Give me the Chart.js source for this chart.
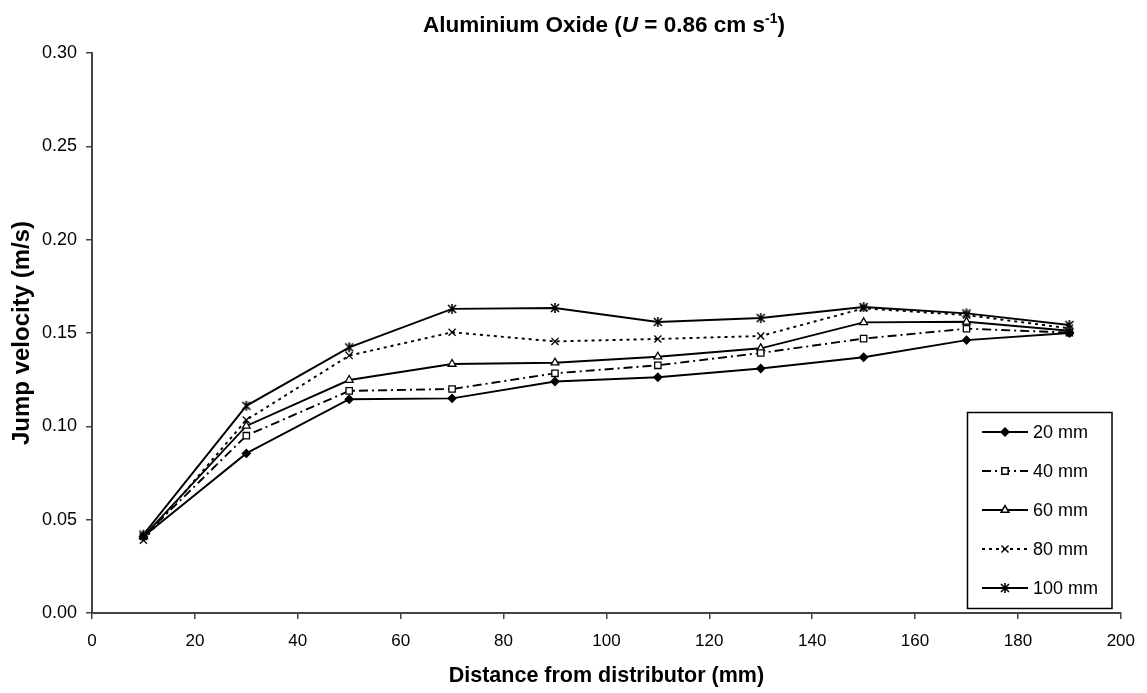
<!DOCTYPE html>
<html>
<head>
<meta charset="utf-8">
<script src="https://cdn.jsdelivr.net/npm/chart.js@4/dist/chart.umd.min.js"></script>
<style>
  body { margin: 0; background: #fff; }
  canvas { display: block; }
</style>
</head>
<body>
<canvas id="myLineChart" width="1147" height="693"></canvas>
<script>
/*  data
-------------------------------------------------------*/
var distances = [10, 30, 50, 70, 90, 110, 130, 150, 170, 190];
var seriesNames = ['20 mm', '40 mm', '60 mm', '80 mm', '100 mm'];
var v20  = [0.041, 0.0855, 0.1145, 0.115, 0.124, 0.1263, 0.131, 0.137, 0.1462, 0.150];
var v40  = [0.041, 0.095, 0.119, 0.120, 0.1284, 0.1327, 0.1393, 0.147, 0.1523, 0.1502];
var v60  = [0.041, 0.1002, 0.1248, 0.1334, 0.1341, 0.1373, 0.1418, 0.1557, 0.156, 0.1512];
var v80  = [0.039, 0.1034, 0.1379, 0.1504, 0.1455, 0.1468, 0.1484, 0.1632, 0.1596, 0.1525];
var v100 = [0.042, 0.111, 0.1423, 0.1629, 0.1634, 0.1559, 0.158, 0.1639, 0.1605, 0.1543];
var yTickLabels = ['0.00', '0.05', '0.10', '0.15', '0.20', '0.25', '0.30'];

function pts(values) {
  return distances.map(function (d, i) { return { x: d, y: values[i] }; });
}

// asterisk marker: an x with a vertical bar
var star = document.createElement('canvas');
star.width = 12; star.height = 12;
(function () {
  var c = star.getContext('2d');
  c.strokeStyle = '#000';
  c.lineWidth = 1.6;
  c.beginPath();
  c.moveTo(2, 2); c.lineTo(10, 10);
  c.moveTo(10, 2); c.lineTo(2, 10);
  c.moveTo(6, 1); c.lineTo(6, 11);
  c.stroke();
})();

var FONT = "'Liberation Sans', Arial, sans-serif";

/*  title with italic U and superscript
-------------------------------------------------------*/
var titlePlugin = {
  id: 'richTitle',
  afterDraw: function (chart) {
    var ctx = chart.ctx;
    var parts = [
      { t: 'Aluminium Oxide (', f: 'bold 22.5px ' + FONT, dy: 0 },
      { t: 'U', f: 'italic bold 22.5px ' + FONT, dy: 0 },
      { t: ' = 0.86 cm s', f: 'bold 22.5px ' + FONT, dy: 0 },
      { t: '-1', f: 'bold 14px ' + FONT, dy: -9 },
      { t: ')', f: 'bold 22.5px ' + FONT, dy: 0 }
    ];
    ctx.save();
    var total = 0;
    parts.forEach(function (p) { ctx.font = p.f; p.w = ctx.measureText(p.t).width; total += p.w; });
    var x = 604 - total / 2;
    ctx.fillStyle = '#000';
    ctx.textBaseline = 'alphabetic';
    ctx.textAlign = 'left';
    parts.forEach(function (p) { ctx.font = p.f; ctx.fillText(p.t, x, 32 + p.dy); x += p.w; });
    ctx.restore();
  }
};

/*  legend box inside the plot
-------------------------------------------------------*/
var legendPlugin = {
  id: 'boxLegend',
  afterDraw: function (chart) {
    var ctx = chart.ctx;
    ctx.save();
    ctx.strokeStyle = '#000';
    ctx.lineWidth = 1.5;
    ctx.strokeRect(967.5, 412.5, 144.5, 196);
    chart.data.datasets.forEach(function (ds, i) {
      var y = 432 + i * 39;
      ctx.save();
      ctx.strokeStyle = '#000';
      ctx.lineWidth = ds.borderWidth;
      ctx.setLineDash(ds.borderDash || []);
      ctx.beginPath();
      ctx.moveTo(982, y); ctx.lineTo(1028, y);
      ctx.stroke();
      ctx.restore();
      ctx.fillStyle = ds.pointBackgroundColor;
      ctx.strokeStyle = '#000';
      Chart.helpers.drawPoint(ctx, {
        pointStyle: ds.pointStyle, radius: ds.pointRadius, rotation: ds.pointRotation || 0,
        borderWidth: ds.pointBorderWidth
      }, 1005, y);
      ctx.fillStyle = '#000';
      ctx.font = '18px ' + FONT;
      ctx.textBaseline = 'middle';
      ctx.fillText(ds.label, 1033, y + 1);
    });
    ctx.restore();
  }
};

function series(label, values, dash, style, radius, fill, rot) {
  return {
    label: label,
    data: pts(values),
    borderColor: '#000',
    borderWidth: 1.9,
    borderDash: dash,
    pointStyle: style,
    pointRadius: radius,
    pointHoverRadius: radius,
    pointRotation: rot || 0,
    pointBackgroundColor: fill,
    pointBorderColor: '#000',
    pointBorderWidth: 1.3,
    lineTension: 0
  };
}

var ctx = document.getElementById('myLineChart');
var myLineChart = new Chart(ctx, {
  type: 'line',
  data: {
    datasets: [
      series(seriesNames[0], v20, [], 'rectRot', 4, '#000'),
      series(seriesNames[1], v40, [9, 4, 2, 4], 'rect', 4.5, '#fff'),
      series(seriesNames[2], v60, [], 'triangle', 4.5, '#fff'),
      series(seriesNames[3], v80, [3, 4], 'crossRot', 5, '#fff'),
      series(seriesNames[4], v100, [], star, 6, '#000')
    ]
  },
  options: {
    responsive: false,
    animation: false,
    layout: { padding: { top: 53, right: 26, left: 0, bottom: 0 } },
    plugins: {
      legend: { display: false },
      title: { display: false },
      tooltip: { enabled: false }
    },
    scales: {
      x: {
        type: 'linear',
        min: 0, max: 200,
        ticks: { stepSize: 20, color: '#000', padding: 12, font: { family: FONT, size: 17 } },
        grid: { drawOnChartArea: false, tickLength: 6, color: '#444', lineWidth: 1.5 },
        border: { color: '#444', width: 2 },
        title: {
          display: true, text: 'Distance from distributor (mm)', color: '#000',
          font: { family: FONT, size: 21.5, weight: 'bold' }, padding: { top: 0, bottom: 4 }
        },
        afterFit: function (s) { s.height = 80; }
      },
      y: {
        min: 0, max: 0.3,
        ticks: {
          stepSize: 0.05, color: '#000', padding: 9, font: { family: FONT, size: 18 },
          callback: function (v, i) { return yTickLabels[i]; }
        },
        grid: { drawOnChartArea: false, tickLength: 6, color: '#444', lineWidth: 1.5 },
        border: { color: '#444', width: 2 },
        title: {
          display: true, text: 'Jump velocity (m/s)', color: '#000',
          font: { family: FONT, size: 24, weight: 'bold' }, padding: { top: 8, bottom: 0 }
        },
        afterFit: function (s) { s.width = 92; }
      }
    }
  },
  plugins: [titlePlugin, legendPlugin]
});
</script>
</body>
</html>
